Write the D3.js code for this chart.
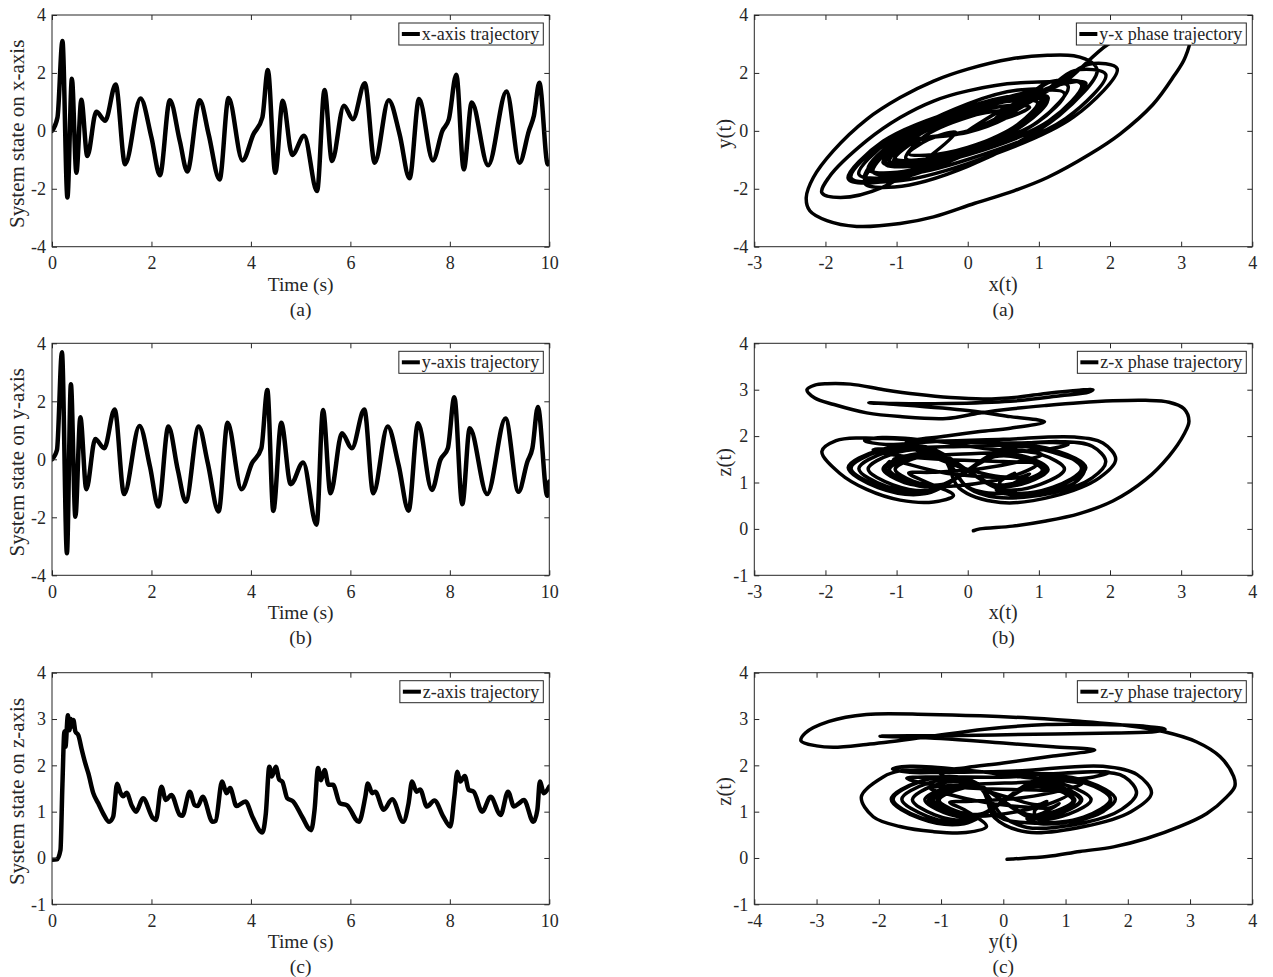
<!DOCTYPE html>
<html>
<head>
<meta charset="utf-8">
<script src="https://cdn.jsdelivr.net/npm/d3@7"></script>
<style>
  body { margin: 0; background: #fff; }
  text { font-family: "Liberation Serif", "Times New Roman", serif; fill: #262626; }
</style>
</head>
<body>
<svg id="fig" width="1273" height="977"></svg>
<script>
// ---- time histories: [time (s), state] ----
const xStates = [
  [0,0],[0.11,0.46],[0.21,3.1],[0.31,-2.3],[0.4,1.8],[0.49,-1.45],[0.59,1.07],[0.71,-0.87],
  [0.89,0.66],[1.07,0.35],[1.28,1.6],[1.47,-1.15],[1.78,1.12],[2.0,-0.23],[2.17,-1.53],
  [2.37,1.06],[2.57,-0.35],[2.72,-1.4],[2.97,1.06],[3.15,-0.12],[3.37,-1.68],[3.55,1.13],
  [3.83,-1.02],[4.05,-0.12],[4.23,0.46],[4.34,2.1],[4.49,-1.45],[4.64,1.04],[4.83,-0.83],
  [5.07,-0.17],[5.33,-2.08],[5.48,1.41],[5.63,-1.04],[5.87,0.87],[6.05,0.4],[6.29,1.64],
  [6.49,-1.1],[6.77,1.06],[6.99,-0.12],[7.19,-1.64],[7.38,1.1],[7.66,-1.02],[7.85,0],
  [7.98,0.4],[8.13,1.94],[8.28,-1.33],[8.44,0.98],[8.77,-1.19],[9.14,1.36],[9.4,-1.1],
  [9.59,0],[9.69,0.52],[9.8,1.66],[9.97,-1.16],[10,-1.1]
];
const yStates = [
  [0,0],[0.1,0.32],[0.2,3.69],[0.3,-3.24],[0.38,2.59],[0.47,-1.98],[0.57,1.45],[0.69,-1.03],
  [0.87,0.7],[1.05,0.38],[1.26,1.72],[1.45,-1.2],[1.76,1.15],[1.97,-0.25],[2.14,-1.63],
  [2.34,1.13],[2.53,-0.37],[2.69,-1.46],[2.95,1.13],[3.13,-0.11],[3.35,-1.8],[3.53,1.26],
  [3.81,-1.03],[4.02,-0.14],[4.21,0.38],[4.33,2.39],[4.45,-1.78],[4.61,1.26],[4.8,-0.86],
  [5.05,-0.11],[5.32,-2.26],[5.45,1.7],[5.6,-1.17],[5.83,0.9],[6.03,0.38],[6.28,1.72],
  [6.46,-1.17],[6.75,1.13],[6.97,-0.2],[7.17,-1.77],[7.36,1.24],[7.64,-1.06],[7.81,-0.02],
  [7.96,0.38],[8.09,2.14],[8.25,-1.55],[8.4,1.07],[8.75,-1.2],[9.12,1.41],[9.38,-1.12],
  [9.56,-0.08],[9.66,0.38],[9.77,1.8],[9.96,-1.26],[10,-0.77]
];
const zStates = [
  [0,-0.04],[0.1,-0.03],[0.17,0.17],[0.21,1.6],[0.25,2.73],[0.27,2.4],[0.32,3.08],[0.35,2.76],
  [0.38,3.0],[0.41,2.84],[0.43,2.98],[0.47,2.73],[0.53,2.65],[0.6,2.33],[0.67,2.04],[0.73,1.83],
  [0.83,1.4],[0.93,1.18],[1.03,0.96],[1.15,0.78],[1.23,0.89],[1.31,1.6],[1.38,1.4],[1.43,1.33],
  [1.5,1.41],[1.6,1.14],[1.69,1.0],[1.83,1.29],[2.03,0.86],[2.09,0.82],[2.2,1.54],[2.29,1.25],
  [2.4,1.36],[2.57,0.93],[2.62,0.91],[2.77,1.43],[2.87,1.14],[2.93,1.12],[3.03,1.32],[3.23,0.78],
  [3.29,0.8],[3.42,1.65],[3.51,1.4],[3.58,1.51],[3.71,1.12],[3.89,1.22],[4.03,0.89],[4.23,0.55],
  [4.3,0.96],[4.37,1.97],[4.42,1.76],[4.5,1.97],[4.57,1.69],[4.63,1.65],[4.73,1.29],[4.85,1.22],
  [5.03,0.89],[5.21,0.6],[5.28,1.04],[5.35,1.94],[5.41,1.68],[5.48,1.9],[5.56,1.58],[5.65,1.58],
  [5.79,1.18],[5.93,1.14],[6.17,0.78],[6.3,1.32],[6.35,1.61],[6.44,1.4],[6.5,1.43],[6.67,1.04],
  [6.84,1.27],[7.06,0.78],[7.17,1.18],[7.24,1.65],[7.33,1.43],[7.4,1.48],[7.54,1.11],[7.69,1.24],
  [7.87,0.89],[8.01,0.68],[8.09,1.32],[8.15,1.86],[8.21,1.65],[8.3,1.77],[8.38,1.47],[8.48,1.43],
  [8.65,1.0],[8.82,1.32],[9.02,0.93],[9.17,1.43],[9.29,1.11],[9.39,1.18],[9.49,1.25],[9.68,0.78],
  [9.76,1.04],[9.81,1.65],[9.89,1.4],[10,1.54]
];

// ---- phase portraits: [horizontal, vertical] in trajectory order ----
const yxPhase = [
  [0,0],[0.5,0.75],[1.0,1.3],[1.35,1.67],[1.98,3.0],[2.5,3.55],[2.9,3.62],[3.12,3.25],[3.05,2.5],
  [2.9,1.9],[2.6,0.9],[2.14,-0.11],[1.72,-0.8],[1.12,-1.61],[0.65,-2.07],[0.1,-2.5],[-0.48,-2.97],
  [-0.95,-3.2],[-1.56,-3.3],[-1.98,-3.1],[-2.22,-2.76],[-2.27,-2.3],[-2.17,-1.61],[-1.89,-0.69],
  [-1.42,0.4],[-0.95,1.15],[-0.48,1.72],[0,2.13],[0.6,2.48],[1.12,2.61],[1.49,2.59],[1.75,2.35],
  [1.82,2.05],
  [1.28,0.52],[0,-1.23],[-1.03,-1.94],[-1.45,-1.8],
  [-1.03,-0.4],[0,0.93],[0.76,1.42],[1.07,1.35],
  [0.76,0.29],[0,-0.67],[-0.62,-1.01],[-0.87,-0.95],
  [-0.62,-0.21],[0,0.47],[0.47,0.69],[0.66,0.65],
  [0.5,0.45],[0.38,0.4],[0.8,1.1],[1.14,1.69],[1.6,1.6],
  [1.14,0.34],[0,-0.79],[-0.82,-1.18],[-1.15,-1.1],
  [-0.82,-0.24],[0,0.63],[0.8,1.13],[1.12,1.06],
  [0.8,0.23],[0,-0.75],[-1.09,-1.6],[-1.53,-1.5],
  [-1.09,-0.33],[0,0.75],[0.75,1.11],[1.06,1.04],
  [0.75,0.23],[0,-0.7],[-0.99,-1.43],[-1.4,-1.33],
  [-0.99,-0.29],[0,0.7],[0.75,1.11],[1.06,1.04],
  [0.75,0.23],[0,-0.79],[-1.19,-1.76],[-1.68,-1.65],
  [-1.19,-0.36],[0,0.83],[0.8,1.23],[1.13,1.15],
  [0.8,0.25],[0,-0.62],[-0.72,-1.01],[-1.02,-0.95],
  [-0.72,-0.35],[-0.12,-0.1],[0.46,0.42],[1.2,1.5],[1.7,2.3],[2.1,2.15],
  [1.49,0.48],[0,-1.13],[-1.03,-1.74],[-1.45,-1.64],
  [-1.03,-0.36],[0,0.82],[0.74,1.23],[1.04,1.15],
  [0.74,0.25],[0,-0.57],[-0.59,-0.84],[-0.83,-0.79],
  [-0.55,-0.3],[-0.17,-0.05],[-0.6,-1.0],[-1.2,-1.95],[-1.79,-2.3],[-2.05,-2.14],
  [-1.95,-1.6],[-1.42,-0.34],[-0.95,0.46],[-0.48,1.03],[0,1.38],[0.7,1.65],[1.41,1.55],
  [1.0,0.34],[0,-0.77],[-0.74,-1.15],[-1.04,-1.07],
  [-0.74,-0.23],[0,0.56],[0.62,0.88],[0.87,0.81],
  [0.55,0.45],[0.42,0.4],[0.85,1.1],[1.16,1.69],[1.64,1.6],
  [1.16,0.34],[0,-0.78],[-0.78,-1.15],[-1.1,-1.07],
  [-0.78,-0.23],[0,0.62],[0.75,1.11],[1.06,1.04],
  [0.75,0.23],[0,-0.78],[-1.16,-1.73],[-1.64,-1.62],
  [-1.16,-0.35],[0,0.81],[0.78,1.22],[1.1,1.14],
  [0.78,0.25],[0,-0.62],[-0.72,-1.04],[-1.02,-0.97],
  [-0.72,-0.35],[0,0],[0.4,0.42],[1.1,1.4],[1.5,2.08],[1.94,1.95],
  [1.38,0.43],[0,-0.99],[-0.94,-1.52],[-1.33,-1.42],
  [-0.94,-0.31],[0,0.71],[0.7,1.05],[0.98,0.98],
  [0.7,0.21],[0,-0.61],[-0.84,-1.18],[-1.19,-1.1],
  [-0.84,-0.24],[0,0.7],[0.97,1.38],[1.36,1.29],
  [0.97,0.28],[0,-0.68],[-0.78,-1.1],[-1.1,-1.03],
  [-0.78,-0.35],[0,-0.05],[0.52,0.42],[1.1,1.45],[1.66,1.65],
  [1.18,0.36],[0,-0.83],[-0.82,-1.23],[-1.16,-1.15],[-1.1,-0.77]
];
const zxPhase = [
  [0.08,-0.04],[0.17,0],[0.63,0.06],[1.1,0.17],[1.57,0.33],[2.04,0.6],[2.5,1.06],[2.83,1.57],
  [3.04,2.04],[3.11,2.32],[3.04,2.59],[2.83,2.73],[2.5,2.77],[2.04,2.76],[1.57,2.72],[1.1,2.66],
  [0.63,2.59],[0.17,2.5],[-0.3,2.38],[-0.95,2.42],[-1.42,2.5],[-1.88,2.68],[-2.15,2.82],
  [-2.26,3.0],[-2.15,3.1],[-1.98,3.13],[-1.65,3.12],[-1.18,3.0],[-0.71,2.9],[-0.24,2.83],
  [0.23,2.8],[0.7,2.84],[1.1,2.92],[1.57,2.99],[1.76,3.0],[1.7,2.95],[1.3,2.87],[0.6,2.75],
  [-0.3,2.7],[-1.0,2.7],[-1.39,2.72],[-1.0,2.68],[0,2.55],[0.6,2.42],[1.08,2.31],[0.6,2.17],
  [0.17,2.1],[-0.3,2.0],[-0.87,1.85],
  [-0.4,1.5],[0.15,1.22],[0.55,1.12],[0.66,1.2],[0.45,1.0],[0.56,0.78],[1.2,0.9],[1.6,1.3],
  [1.2,1.7],[0.56,1.75],
  [-0.4,0.92],[-0.86,1.0],[-1.15,1.29],[-0.86,1.55],[-0.4,1.6],
  [0.39,0.93],[0.84,1.01],[1.12,1.28],[0.84,1.54],[0.39,1.59],
  [-0.54,0.8],[-1.15,0.92],[-1.53,1.3],[-1.15,1.65],[-0.54,1.72],
  [0.37,0.95],[0.8,1.03],[1.06,1.28],[0.8,1.52],[0.37,1.57],
  [-0.49,0.84],[-1.05,0.95],[-1.4,1.29],[-1.05,1.62],[-0.49,1.68],
  [0.36,0.96],[0.78,1.04],[1.05,1.27],[0.8,1.5],[0.38,1.56],
  [-0.59,0.76],[-1.26,0.89],[-1.68,1.32],[-1.26,1.69],[-0.59,1.77],
  [0.4,0.93],[0.85,1.01],[1.13,1.28],[0.85,1.54],[0.4,1.59],
  [-0.36,0.96],[-0.77,1.03],[-1.02,1.28],[-0.77,1.51],[-0.36,1.56],
  [-0.12,0.88],[0.46,0.57],[1.2,0.7],[1.85,1.1],[2.08,1.5],[1.9,1.85],[1.5,1.98],[0.5,1.93],
  [-0.5,1.88],
  [-1.15,1.82],[-1.45,1.9],[-1.2,1.97],[-0.5,1.9],
  [0.3,1.72],[0.85,1.66],[1.04,1.6],[0.8,1.48],[0.2,1.3],
  [-0.5,1.22],[-0.83,1.2],[-0.6,1.02],[-0.2,0.72],[-0.48,0.58],[-0.95,0.62],[-1.42,0.85],
  [-1.8,1.2],[-2.05,1.67],[-1.85,1.9],[-1.5,1.96],[-0.5,1.9],[0.5,1.85],
  [1.2,1.86],[1.41,1.82],[1.2,1.74],[0.5,1.65],[-0.3,1.6],
  [-0.8,1.55],[-1.04,1.5],[-0.8,1.38],[-0.3,1.2],
  [0.3,1.12],[0.7,1.1],[0.87,1.18],[0.6,0.95],[0.4,0.85],[0.6,0.74],[1.2,0.82],[1.55,1.05],
  [1.64,1.33],[1.3,1.6],[0.57,1.76],
  [-0.39,0.94],[-0.83,1.02],[-1.1,1.28],[-0.83,1.53],[-0.39,1.58],
  [0.37,0.94],[0.8,1.02],[1.06,1.29],[0.8,1.53],[0.37,1.58],
  [-0.57,0.77],[-1.23,0.9],[-1.64,1.31],[-1.23,1.68],[-0.57,1.76],
  [0.39,0.94],[0.83,1.02],[1.1,1.28],[0.83,1.53],[0.39,1.58],
  [-0.36,0.95],[-0.77,1.03],[-1.02,1.29],[-0.77,1.51],[-0.36,1.56],
  [0,0.89],[0.4,0.68],[1.2,0.78],[1.75,1.1],[1.94,1.45],[1.75,1.78],[1.3,1.88],[0.4,1.8],
  [-1.0,1.74],[-1.33,1.7],[-1.05,1.6],[-0.4,1.5],
  [0.5,1.45],[0.98,1.4],[0.75,1.2],[0.3,1.02],
  [-0.42,0.91],[-0.89,1.0],[-1.19,1.29],[-0.89,1.56],[-0.42,1.61],
  [0.48,0.85],[1.02,0.96],[1.36,1.29],[1.02,1.61],[0.48,1.67],
  [-0.39,0.93],[-0.83,1.02],[-1.1,1.28],[-0.83,1.53],[-0.39,1.58],
  [0,0.9],[0.52,0.76],[1.25,0.9],[1.66,1.32],[1.25,1.68],[0.58,1.77],
  [-0.41,0.92],[-0.87,1.01],[-1.16,1.3],[-1.1,1.45]
];
const zyPhase = [
  [0.06,-0.03],[0.16,-0.02],[0.7,0.03],[1.23,0.14],[1.77,0.24],[2.3,0.42],[2.84,0.68],[3.27,0.96],
  [3.59,1.32],[3.72,1.55],[3.7,1.76],[3.48,2.19],[3.1,2.51],[2.57,2.73],[2.04,2.85],[1.23,2.95],
  [0.43,3.02],[-0.37,3.07],[-1.2,3.1],[-2.2,3.1],[-2.8,2.95],[-3.18,2.7],[-3.25,2.53],[-3.0,2.42],
  [-2.73,2.39],[-2.2,2.45],[-1.3,2.6],[-0.3,2.78],[0.7,2.88],[1.6,2.88],[2.3,2.84],[2.6,2.78],
  [2.45,2.73],[1.8,2.7],[0.5,2.67],[-1.0,2.64],[-1.98,2.63],[-1.0,2.58],[0,2.48],[0.8,2.4],
  [1.47,2.33],[0.8,2.2],[0,2.05],[-0.6,1.95],[-1.03,1.85],
  [-0.5,1.55],[0.1,1.3],[0.55,1.15],[0.7,1.22],[0.5,1.0],[0.6,0.8],[1.29,0.88],[1.72,1.27],
  [1.29,1.64],[0.6,1.71],
  [-0.42,0.91],[-0.9,0.99],[-1.2,1.25],[-0.9,1.5],[-0.42,1.55],
  [0.4,0.92],[0.86,1.0],[1.15,1.25],[0.86,1.49],[0.4,1.54],
  [-0.57,0.78],[-1.22,0.9],[-1.63,1.27],[-1.22,1.61],[-0.57,1.68],
  [0.4,0.93],[0.85,1.0],[1.13,1.25],[0.85,1.48],[0.4,1.53],
  [-0.51,0.83],[-1.1,0.93],[-1.46,1.26],[-1.1,1.57],[-0.51,1.63],
  [0.39,0.94],[0.84,1.01],[1.12,1.24],[0.86,1.47],[0.41,1.52],
  [-0.63,0.74],[-1.35,0.86],[-1.8,1.27],[-1.35,1.65],[-0.63,1.73],
  [0.44,0.89],[0.95,0.98],[1.26,1.26],[0.95,1.52],[0.44,1.57],
  [-0.36,0.95],[-0.77,1.02],[-1.03,1.25],[-0.77,1.46],[-0.36,1.5],
  [-0.14,0.87],[0.38,0.56],[1.3,0.68],[2.05,1.0],[2.38,1.4],[2.15,1.8],[1.6,1.98],[0.2,1.88],
  [-1.0,1.85],
  [-1.5,1.85],[-1.78,1.92],[-1.5,1.98],[-0.6,1.9],
  [0.3,1.75],[1.0,1.66],[1.26,1.6],[1.0,1.48],[0.3,1.3],
  [-0.6,1.22],[-0.86,1.2],[-0.6,1.02],[-0.27,0.68],[-0.6,0.55],[-1.13,0.57],[-1.66,0.68],
  [-2.09,0.89],[-2.28,1.32],[-1.93,1.75],[-1.66,1.88],[-0.5,1.86],[0.8,1.82],
  [1.45,1.86],[1.7,1.85],[1.45,1.75],[0.6,1.65],[-0.3,1.6],
  [-0.9,1.56],[-1.17,1.5],[-0.9,1.38],[-0.3,1.2],
  [0.35,1.1],[0.75,1.08],[0.9,1.17],[0.6,0.95],[0.38,0.85],[0.6,0.74],[1.29,0.84],[1.65,1.05],
  [1.72,1.3],[1.35,1.6],[0.6,1.72],
  [-0.41,0.92],[-0.88,1.0],[-1.17,1.25],[-0.88,1.49],[-0.41,1.54],
  [0.4,0.93],[0.85,1.0],[1.13,1.26],[0.85,1.48],[0.4,1.53],
  [-0.62,0.75],[-1.33,0.87],[-1.77,1.27],[-1.33,1.65],[-0.62,1.72],
  [0.43,0.9],[0.93,0.98],[1.24,1.25],[0.93,1.51],[0.43,1.56],
  [-0.37,0.94],[-0.8,1.02],[-1.06,1.25],[-0.8,1.47],[-0.37,1.51],
  [0,0.89],[0.38,0.66],[1.3,0.76],[1.9,1.05],[2.14,1.4],[1.95,1.75],[1.5,1.86],[0.1,1.75],
  [-1.1,1.75],
  [-1.55,1.72],[-1.3,1.62],[-0.4,1.5],
  [0.6,1.46],[1.07,1.4],[0.8,1.2],[0.3,1.02],
  [-0.42,0.9],[-0.9,0.99],[-1.2,1.25],[-0.9,1.5],[-0.42,1.55],
  [0.49,0.85],[1.06,0.95],[1.41,1.26],[1.06,1.55],[0.49,1.61],
  [-0.39,0.93],[-0.84,1.0],[-1.12,1.25],[-0.84,1.48],[-0.39,1.53],
  [-0.08,0.9],[0.38,0.76],[1.35,0.86],[1.8,1.27],[1.35,1.65],[0.63,1.73],
  [-0.44,0.89],[-0.95,0.98],[-1.26,1.26],[-1.0,1.48],[-0.77,1.54]
];

// ---- axis ticks ----
const timeTicks = [0, 2, 4, 6, 8, 10];
const wideStateTicks = [-4, -2, 0, 2, 4];
const zStateTicks = [-1, 0, 1, 2, 3, 4];
const xPhaseTicks = [-3, -2, -1, 0, 1, 2, 3, 4];
const yPhaseTicks = [-4, -3, -2, -1, 0, 1, 2, 3, 4];

const panels = [
  { data: xStates, curve: d3.curveMonotoneX, width: 4.5, xd: [0, 10], yd: [-4, 4], xt: timeTicks, yt: wideStateTicks,
    left: 52, right: 549.3, top: 15, bottom: 246.7,
    xlabel: "Time (s)", ylabel: "System state on x-axis", tag: "(a)", legend: "x-axis trajectory" },
  { data: yStates, curve: d3.curveMonotoneX, width: 4.5, xd: [0, 10], yd: [-4, 4], xt: timeTicks, yt: wideStateTicks,
    left: 52, right: 549.3, top: 343.3, bottom: 575.3,
    xlabel: "Time (s)", ylabel: "System state on y-axis", tag: "(b)", legend: "y-axis trajectory" },
  { data: zStates, curve: d3.curveMonotoneX, width: 4.5, xd: [0, 10], yd: [-1, 4], xt: timeTicks, yt: zStateTicks,
    left: 52, right: 549.3, top: 672.7, bottom: 904.3,
    xlabel: "Time (s)", ylabel: "System state on z-axis", tag: "(c)", legend: "z-axis trajectory" },
  { data: yxPhase, curve: d3.curveCatmullRom.alpha(0.5), width: 3.5, xd: [-3, 4], yd: [-4, 4], xt: xPhaseTicks, yt: wideStateTicks,
    left: 754.3, right: 1252.3, top: 15, bottom: 246.7,
    xlabel: "x(t)", ylabel: "y(t)", tag: "(a)", legend: "y-x phase trajectory" },
  { data: zxPhase, curve: d3.curveCatmullRom.alpha(0.5), width: 3.5, xd: [-3, 4], yd: [-1, 4], xt: xPhaseTicks, yt: zStateTicks,
    left: 754.3, right: 1252.3, top: 343.3, bottom: 575.3,
    xlabel: "x(t)", ylabel: "z(t)", tag: "(b)", legend: "z-x phase trajectory" },
  { data: zyPhase, curve: d3.curveCatmullRom.alpha(0.5), width: 3.5, xd: [-4, 4], yd: [-1, 4], xt: yPhaseTicks, yt: zStateTicks,
    left: 754.3, right: 1252.3, top: 672.7, bottom: 904.3,
    xlabel: "y(t)", ylabel: "z(t)", tag: "(c)", legend: "z-y phase trajectory" }
];

const svg = d3.select("#fig");
const axisColor = "#262626";
const plain = d => String(d);

panels.forEach((p, i) => {
  const x = d3.scaleLinear().domain(p.xd).range([p.left, p.right]);
  const y = d3.scaleLinear().domain(p.yd).range([p.bottom, p.top]);
  const g = svg.append("g");
  const isLeft = p.left < 400;

  const clipId = "clip" + i;
  g.append("clipPath").attr("id", clipId)
    .append("rect").attr("x", p.left).attr("y", p.top)
    .attr("width", p.right - p.left).attr("height", p.bottom - p.top);

  g.append("path")
    .datum(p.data)
    .attr("clip-path", `url(#${clipId})`)
    .attr("fill", "none")
    .attr("stroke", "#000")
    .attr("stroke-width", p.width)
    .attr("stroke-linejoin", "round")
    .attr("stroke-linecap", "round")
    .attr("d", d3.line().x(d => x(d[0])).y(d => y(d[1])).curve(p.curve));

  const styleAxis = sel => {
    sel.select(".domain").remove();
    sel.selectAll("line").attr("stroke", axisColor).attr("stroke-width", 1);
    sel.selectAll("text").attr("fill", axisColor).style("font-size", "18px")
      .style("font-family", '"Liberation Serif", "Times New Roman", serif');
  };

  g.append("g").attr("transform", `translate(0,${p.bottom})`)
    .call(d3.axisBottom(x).tickValues(p.xt).tickFormat(plain).tickSize(-5).tickPadding(10))
    .call(styleAxis);
  g.append("g").attr("transform", `translate(0,${p.top})`)
    .call(d3.axisTop(x).tickValues(p.xt).tickFormat("").tickSize(-5))
    .call(styleAxis);
  g.append("g").attr("transform", `translate(${p.left},0)`)
    .call(d3.axisLeft(y).tickValues(p.yt).tickFormat(plain).tickSize(-5).tickPadding(6))
    .call(styleAxis);
  g.append("g").attr("transform", `translate(${p.right},0)`)
    .call(d3.axisRight(y).tickValues(p.yt).tickFormat("").tickSize(-5))
    .call(styleAxis);

  g.append("rect")
    .attr("x", p.left).attr("y", p.top)
    .attr("width", p.right - p.left).attr("height", p.bottom - p.top)
    .attr("fill", "none").attr("stroke", axisColor).attr("stroke-width", 1);

  const cx = (p.left + p.right) / 2;
  g.append("text").attr("x", cx).attr("y", p.bottom + 44)
    .attr("text-anchor", "middle").style("font-size", isLeft ? "19.5px" : "20px").text(p.xlabel);
  g.append("text").attr("x", cx).attr("y", p.bottom + 69)
    .attr("text-anchor", "middle").style("font-size", "19.5px").text(p.tag);
  g.append("text")
    .attr("transform", `translate(${isLeft ? 24 : 731},${(p.top + p.bottom) / 2 + 3}) rotate(-90)`)
    .attr("text-anchor", "middle").style("font-size", isLeft ? "21px" : "20.5px").text(p.ylabel);

  // legend
  const lg = g.append("g");
  const lt = lg.append("text").attr("y", p.top + 25).style("font-size", "18px").text(p.legend);
  const tw = lt.node().getComputedTextLength();
  const boxR = p.right - 6, boxL = boxR - tw - 27;
  lt.attr("x", boxL + 23);
  lg.insert("rect", "text")
    .attr("x", boxL).attr("y", p.top + 8).attr("width", boxR - boxL).attr("height", 22)
    .attr("fill", "#fff").attr("stroke", axisColor).attr("stroke-width", 1);
  lg.append("line")
    .attr("x1", boxL + 3).attr("x2", boxL + 21)
    .attr("y1", p.top + 19).attr("y2", p.top + 19)
    .attr("stroke", "#000").attr("stroke-width", 4);
});
</script>
</body>
</html>
